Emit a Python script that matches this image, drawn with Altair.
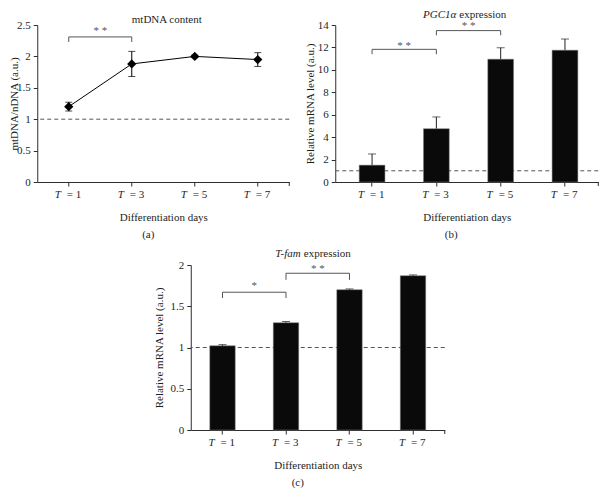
import altair as alt
import pandas as pd

FONT = "Liberation Serif"
AXIS_COLOR = "#2e2e2e"
TEXT_COLOR = "#1e1e1e"
GRAY = "#555555"
BAR_COLOR = "#0a0a0a"

# ---------------- data ----------------
days = ["T = 1", "T = 3", "T = 5", "T = 7"]
day_suffix = ["= 1", "= 3", "= 5", "= 7"]

mt_mean = [1.20, 1.88, 2.00, 1.95]
mt_err = [0.07, 0.20, 0.02, 0.11]

pgc_mean = [1.50, 4.75, 10.95, 11.75]
pgc_err = [1.00, 1.05, 1.02, 1.00]

tfam_mean = [1.02, 1.30, 1.70, 1.87]
tfam_err = [0.015, 0.015, 0.010, 0.010]

ref_level = [1.0]

mt_y_ticks = [0, 0.5, 1, 1.5, 2, 2.5]
pgc_y_ticks = [0, 2, 4, 6, 8, 10, 12, 14]
tfam_y_ticks = [0, 0.5, 1, 1.5, 2]

mt_br_from = ["T = 1"]
mt_br_to = ["T = 3"]
mt_br_top = [2.31]
mt_br_bot = [2.23]
mt_br_mark = ["* *"]
mt_br_mark_y = [2.44]

pgc_br_from = ["T = 1", "T = 3"]
pgc_br_to = ["T = 3", "T = 5"]
pgc_br_top = [11.83, 13.50]
pgc_br_bot = [11.40, 13.08]
pgc_br_mark = ["* *", "* *"]
pgc_br_mark_y = [12.30, 14.10]

tfam_br_from = ["T = 1", "T = 3"]
tfam_br_to = ["T = 3", "T = 5"]
tfam_br_top = [1.67, 1.90]
tfam_br_bot = [1.60, 1.82]
tfam_br_mark = ["*", "* *"]
tfam_br_mark_y = [1.77, 1.97]


def make_panel(kind, mean, err, yticks, ytitle, W, H, scale_kw, step,
               title_parts, caption, caption_x, ytitle_x,
               br_from, br_to, br_top, br_bot, br_mark, br_mark_y):
    df = pd.DataFrame({
        "day": days,
        "suffix": day_suffix,
        "mean": mean,
        "lo": [m - e for m, e in zip(mean, err)],
        "hi": [m + e for m, e in zip(mean, err)],
    })
    br = pd.DataFrame({"from": br_from, "to": br_to, "top": br_top,
                       "bot": br_bot, "mark": br_mark, "my": br_mark_y})
    ends = pd.DataFrame({"pos": br_from + br_to, "top": br_top + br_top,
                         "bot": br_bot + br_bot})
    one = pd.DataFrame({"k": [0]})

    xscale = alt.Scale(type="band", domain=days, paddingInner=0.6, **scale_kw)
    xaxis = alt.Axis(labels=False, ticks=True, tickSize=4, tickColor=AXIS_COLOR,
                     domainColor=AXIS_COLOR, domainWidth=1, tickWidth=1, grid=False,
                     title="Differentiation days", titleFont=FONT, titleFontSize=11,
                     titleFontWeight="normal", titleColor=TEXT_COLOR,
                     titleY=35, titleBaseline="middle")
    yscale = alt.Scale(domain=[yticks[0], yticks[-1]], nice=False, zero=True)
    yaxis = alt.Axis(values=yticks, format="~g", tickSize=4, tickColor=AXIS_COLOR,
                     domainColor=AXIS_COLOR, domainWidth=1, tickWidth=1, grid=False,
                     labelFont=FONT, labelFontSize=11, labelColor=TEXT_COLOR,
                     labelPadding=3, title=ytitle, titleFont=FONT, titleFontSize=11,
                     titleFontWeight="normal", titleColor=TEXT_COLOR,
                     titleAngle=270, titleX=ytitle_x, titleBaseline="middle")

    def X(f):
        return alt.X(f, type="nominal", scale=xscale, axis=xaxis)

    def Y(f):
        return alt.Y(f, type="quantitative", scale=yscale, axis=yaxis)

    layers = []
    layers.append(alt.Chart(pd.DataFrame({"ref": ref_level})).mark_rule(
        color=GRAY, strokeDash=[4, 3], strokeWidth=1).encode(y=Y("ref")))

    base = alt.Chart(df)
    if kind == "line":
        layers.append(base.mark_rule(color="black", strokeWidth=1).encode(
            x=X("day"), y=Y("lo"), y2=alt.Y2("hi")))
        layers.append(base.mark_tick(color="black", orient="horizontal", size=7,
                                     thickness=1).encode(x=X("day"), y=Y("lo")))
        layers.append(base.mark_tick(color="black", orient="horizontal", size=7,
                                     thickness=1).encode(x=X("day"), y=Y("hi")))
        layers.append(base.mark_line(color="black", strokeWidth=1).encode(
            x=X("day"), y=Y("mean")))
        layers.append(base.mark_point(shape="diamond", filled=True, size=85,
                                      color="black", opacity=1).encode(
            x=X("day"), y=Y("mean")))
    else:
        layers.append(base.mark_rule(color="#222222", strokeWidth=1).encode(
            x=X("day"), y=Y("mean"), y2=alt.Y2("hi")))
        layers.append(base.mark_tick(color="#222222", orient="horizontal", size=8,
                                     thickness=1).encode(x=X("day"), y=Y("hi")))
        layers.append(base.mark_bar(color=BAR_COLOR, stroke="#777777",
                                    strokeWidth=0.5).encode(
            x=X("day"), y=Y("mean")))

    layers.append(alt.Chart(br).mark_rule(color=GRAY, strokeWidth=1).encode(
        x=X("from"), x2=alt.X2("to"), y=Y("top")))
    layers.append(alt.Chart(ends).mark_rule(color=GRAY, strokeWidth=1).encode(
        x=X("pos"), y=Y("top"), y2=alt.Y2("bot")))
    layers.append(alt.Chart(br).mark_text(
        font=FONT, fontSize=11, color=GRAY, align="center", baseline="alphabetic",
        dx=step / 2, dy=5).encode(x=X("from"), y=Y("my"), text="mark:N"))

    layers.append(base.mark_text(
        font=FONT, fontSize=11, fontStyle="italic", color=TEXT_COLOR,
        align="right", baseline="middle", dx=-8).encode(
        x=X("day"), y=alt.value(H + 13), text=alt.value("T")))
    layers.append(base.mark_text(
        font=FONT, fontSize=11, color=TEXT_COLOR,
        align="left", baseline="middle", dx=-2).encode(
        x=X("day"), y=alt.value(H + 13), text="suffix:N"))

    layers.append(alt.Chart(one).mark_rule(color=AXIS_COLOR, strokeWidth=1).encode(
        x=alt.value(W), y=alt.value(H), y2=alt.value(H + 4)))

    for txt, xpos, ypos, align, style, op in title_parts:
        layers.append(alt.Chart(pd.DataFrame({"t": [txt]})).mark_text(
            font=FONT, fontSize=11, fontStyle=style, color=TEXT_COLOR,
            align=align, baseline="middle", opacity=op).encode(
            x=alt.value(xpos), y=alt.value(ypos), text="t:N"))

    layers.append(alt.Chart(pd.DataFrame({"t": [caption]})).mark_text(
        font=FONT, fontSize=11, color=TEXT_COLOR, align="center",
        baseline="middle").encode(
        x=alt.value(caption_x), y=alt.value(H + 53), text="t:N"))

    return alt.layer(*layers).properties(width=W, height=H)


Wa, Ha = 252, 157
Wb, Hb = 263, 157
Wc, Hc = 254, 165

panel_a = make_panel(
    "line", mt_mean, mt_err, mt_y_ticks, "mtDNA/nDNA (a.u.)", Wa, Ha,
    {"paddingOuter": 0.3}, Wa / 4,
    [("mtDNA content", Wa / 2 + 3.5, -5, "center", "normal", 1),
     ("mtDNA content", Wa / 2 + 3.5, -10.5, "center", "normal", 0)],
    "(a)", 111, -23,
    mt_br_from, mt_br_to, mt_br_top, mt_br_bot, mt_br_mark, mt_br_mark_y)

panel_b = make_panel(
    "bar", pgc_mean, pgc_err, pgc_y_ticks, "Relative mRNA level (a.u.)", Wb, Hb,
    {"paddingOuter": 0.345, "align": 0.54}, Wb / 4.09,
    [("PGC1\u03b1", 121, -10.5, "right", "italic", 1),
     ("expression", 124, -10.5, "left", "normal", 1)],
    "(b)", 116, -25,
    pgc_br_from, pgc_br_to, pgc_br_top, pgc_br_bot, pgc_br_mark, pgc_br_mark_y)

panel_c = make_panel(
    "bar", tfam_mean, tfam_err, tfam_y_ticks, "Relative mRNA level (a.u.)", Wc, Hc,
    {"paddingOuter": 0.3}, Wc / 4,
    [("T-fam", 110, -11.5, "right", "italic", 1),
     ("expression", 113, -11.5, "left", "normal", 1)],
    "(c)", 107, -31,
    tfam_br_from, tfam_br_to, tfam_br_top, tfam_br_bot, tfam_br_mark, tfam_br_mark_y)

top = alt.hconcat(panel_a, panel_b, spacing=14)
chart = alt.vconcat(top, panel_c, spacing=7, center=True).properties(
    padding=0
).configure_view(stroke=None)

chart.save("out.html", embed_options={"renderer": "svg", "actions": False})
